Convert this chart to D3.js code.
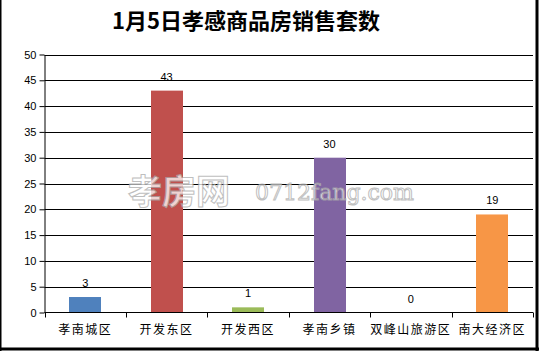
<!DOCTYPE html>
<html lang="zh">
<head>
<meta charset="UTF-8">
<title>1月5日孝感商品房销售套数</title>
<script src="https://cdnjs.cloudflare.com/ajax/libs/d3/7.8.5/d3.min.js"></script>
<style>
  body { margin: 0; background: #fff; overflow: hidden; }
  svg { display: block; }
</style>
</head>
<body>
<div id="chart"></div>
<script>
// data
const districts = ["孝南城区", "开发东区", "开发西区", "孝南乡镇", "双峰山旅游区", "南大经济区"];
const sales = [3, 43, 1, 30, 0, 19];
const barColors = ["#4F81BD", "#C0504D", "#9BBB59", "#8064A2", "#4BACC6", "#F79646"];
const yTicks = [0, 5, 10, 15, 20, 25, 30, 35, 40, 45, 50];
const titleText = "1月5日孝感商品房销售套数";

const width = 539, height = 351;
const margin = { top: 54.5, right: 6, bottom: 39, left: 44.5 };

const svg = d3.select("#chart").append("svg")
  .attr("width", width).attr("height", height);

// outer frame
svg.append("line").attr("x1", 0.5).attr("x2", 0.5).attr("y1", 0).attr("y2", height)
  .attr("stroke", "#000").attr("stroke-width", 2);
svg.append("line").attr("x1", 537).attr("x2", 537).attr("y1", 0).attr("y2", height)
  .attr("stroke", "#000").attr("stroke-width", 3);
svg.append("line").attr("x1", 0).attr("x2", width).attr("y1", 349).attr("y2", 349)
  .attr("stroke", "#000").attr("stroke-width", 3);

// title
svg.append("text")
  .attr("x", 246).attr("y", 29)
  .attr("text-anchor", "middle")
  .attr("font-family", "'Noto Sans CJK SC', sans-serif")
  .attr("font-weight", "bold")
  .attr("font-size", 22)
  .attr("fill", "#000")
  .text(titleText);

const x = d3.scaleBand()
  .domain(districts)
  .range([margin.left, 533])
  .paddingInner(0.61).paddingOuter(0.305);

const y = d3.scaleLinear()
  .domain([0, 50])
  .range([312.5, margin.top]);

// gridlines
svg.append("g")
  .selectAll("line")
  .data(yTicks.filter(d => d > 0))
  .join("line")
  .attr("x1", margin.left).attr("x2", 533)
  .attr("y1", d => Math.round(y(d)) + 0.5).attr("y2", d => Math.round(y(d)) + 0.5)
  .attr("stroke", "#000").attr("stroke-width", 1);

// bars
svg.append("g")
  .selectAll("rect")
  .data(sales)
  .join("rect")
  .attr("x", (d, i) => Math.round(x(districts[i])))
  .attr("width", Math.round(x.bandwidth()))
  .attr("y", d => y(d))
  .attr("height", d => y(0) - y(d))
  .attr("fill", (d, i) => barColors[i]);

// value labels
svg.append("g")
  .selectAll("text")
  .data(sales)
  .join("text")
  .attr("x", (d, i) => x(districts[i]) + x.bandwidth() / 2)
  .attr("y", d => y(d) - 10)
  .attr("text-anchor", "middle")
  .attr("font-family", "'Liberation Sans', Arial, sans-serif")
  .attr("font-size", 11)
  .attr("fill", "#000")
  .text(d => d);

// y axis
const yAxis = svg.append("g")
  .attr("transform", `translate(${margin.left},0)`)
  .call(d3.axisLeft(y).tickValues(yTicks).tickSize(5).tickPadding(3).tickSizeOuter(0));
yAxis.select(".domain").attr("stroke", "#000");
yAxis.selectAll("line").attr("stroke", "#000");
yAxis.selectAll("text")
  .attr("font-family", "'Liberation Sans', Arial, sans-serif")
  .attr("font-size", 11).attr("fill", "#000");

// x axis with category boundary ticks
const xAxisG = svg.append("g").attr("transform", `translate(0,${y(0)})`);
xAxisG.append("line").attr("x1", margin.left).attr("x2", 533)
  .attr("y1", 0).attr("y2", 0).attr("stroke", "#000");
const step = (533 - margin.left) / districts.length;
xAxisG.selectAll(".bt")
  .data(d3.range(districts.length + 1))
  .join("line")
  .attr("class", "bt")
  .attr("x1", i => Math.round(margin.left + i * step) + 0.5)
  .attr("x2", i => Math.round(margin.left + i * step) + 0.5)
  .attr("y1", 0).attr("y2", 5)
  .attr("stroke", "#000");
xAxisG.selectAll(".lbl")
  .data(districts)
  .join("text")
  .attr("class", "lbl")
  .attr("x", d => x(d) + x.bandwidth() / 2)
  .attr("y", 21)
  .attr("text-anchor", "middle")
  .attr("font-family", "'Noto Sans CJK SC', sans-serif")
  .attr("font-size", 12)
  .attr("letter-spacing", 1.5)
  .attr("fill", "#000")
  .text(d => d);

// watermark
const wm = svg.append("g").attr("opacity", 0.75);
wm.append("text")
  .attr("x", 128).attr("y", 204)
  .attr("font-family", "'Noto Sans CJK SC', sans-serif")
  .attr("font-size", 34).attr("font-weight", "bold")
  .attr("fill", "#fff").attr("stroke", "#aaa").attr("stroke-width", 1)
  .text("孝房网");
wm.append("text")
  .attr("x", 255).attr("y", 200)
  .attr("font-family", "'DejaVu Serif', serif")
  .attr("font-size", 22)
  .attr("fill", "#fff").attr("stroke", "#aaa").attr("stroke-width", 1)
  .text("0712fang.com");
</script>
</body>
</html>
